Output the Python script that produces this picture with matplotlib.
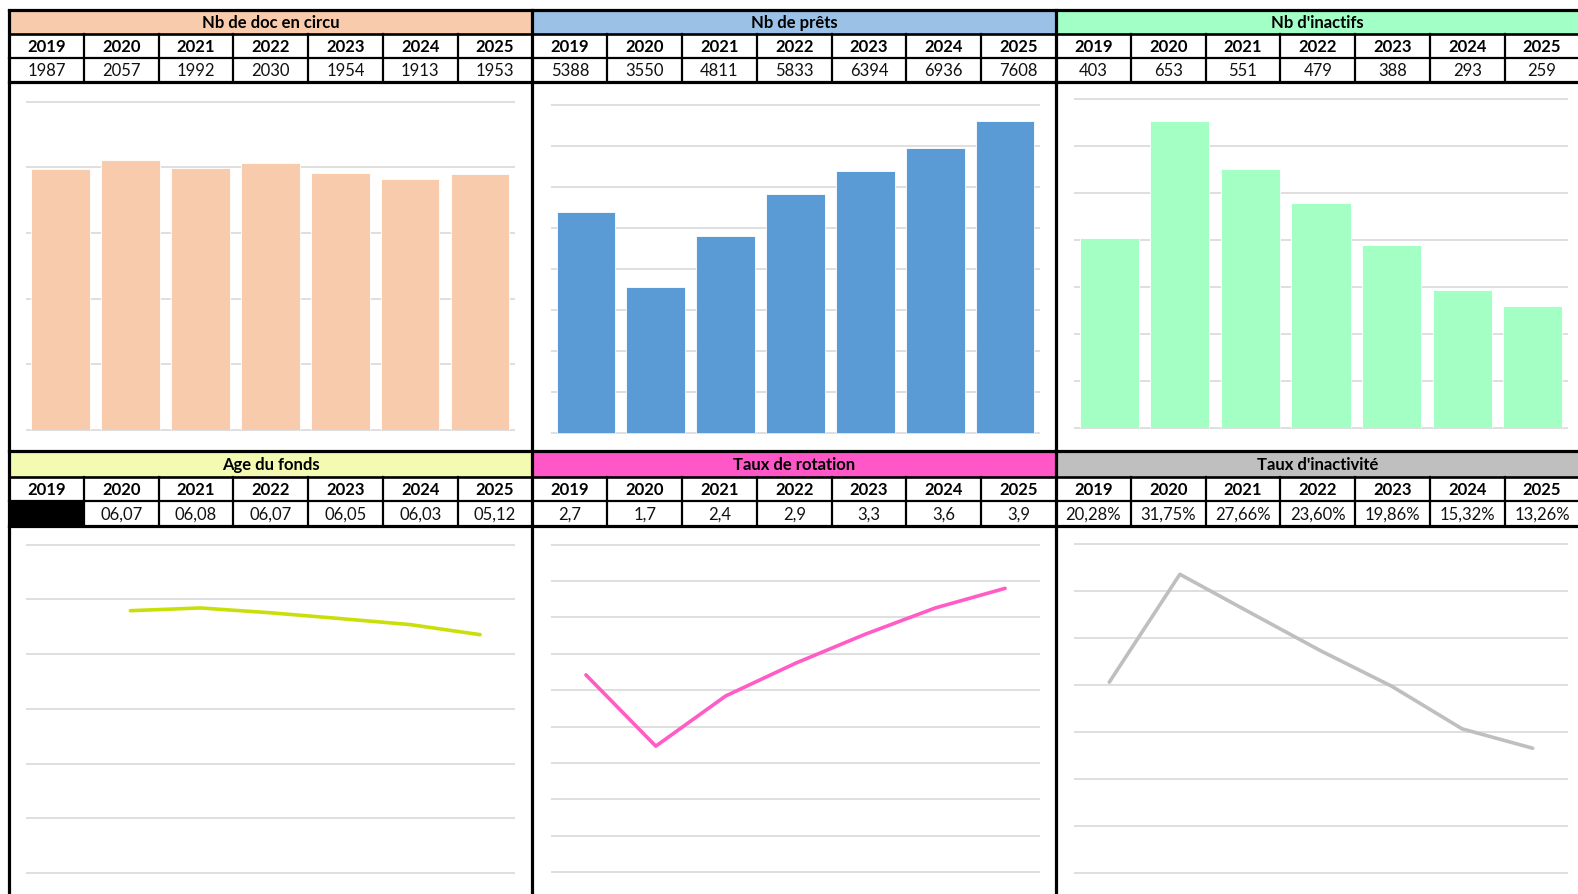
import matplotlib
matplotlib.use('Agg')
import matplotlib.pyplot as plt
import numpy as np
from matplotlib.patches import Rectangle

plt.rcParams['font.family'] = ['Lato', 'DejaVu Sans']

# ---------------- data ----------------
years = ['2019', '2020', '2021', '2022', '2023', '2024', '2025']

docs_circu = [1987, 2057, 1992, 2030, 1954, 1913, 1953]
prets = [5388, 3550, 4811, 5833, 6394, 6936, 7608]
inactifs = [403, 653, 551, 479, 388, 293, 259]

age_labels = ['', '06,07', '06,08', '06,07', '06,05', '06,03', '05,12']
age_days = [np.nan, 2397, 2422, 2378, 2325, 2270, 2178]

rotation_labels = ['2,7', '1,7', '2,4', '2,9', '3,3', '3,6', '3,9']
rotation = [2.71, 1.73, 2.42, 2.87, 3.27, 3.63, 3.90]

inact_labels = ['20,28%', '31,75%', '27,66%', '23,60%', '19,86%', '15,32%', '13,26%']
inact_rate = [20.28, 31.75, 27.66, 23.60, 19.86, 15.32, 13.26]

titles = ['Nb de doc en circu', 'Nb de prêts', "Nb d'inactifs",
          'Age du fonds', 'Taux de rotation', "Taux d'inactivité"]
header_colors = ['#F8CBAD', '#9BC2E6', '#A2FFC6', '#F3FBB3', '#FF57C8', '#BFBFBF']
mark_colors = ['#F8CBAD', '#5B9BD5', '#A3FFC3', '#CADF0A', '#FF5CC6', '#BFBFBF']

# ---------------- geometry (pixels) ----------------
W, H = 1578, 894
fig = plt.figure(figsize=(W / 100, H / 100), dpi=100)
fig.patch.set_facecolor('white')

col_x = [9.0, 532.5, 1056.0, 1579.5]
rows = [  # title top, title bottom, years bottom, values bottom, chart bottom
    dict(t0=9.5, t1=33.5, y1=57.7, v1=81.5, c1=451.0),
    dict(t0=451.0, t1=476.5, y1=501.0, v1=526.0, c1=894.0),
]
# plot-area boxes: x0, x1, ytop(gridline max), ybottom(baseline)
plot_boxes = [
    (25.5, 515.0, 101.7, 430.0),
    (551.0, 1040.0, 104.7, 433.0),
    (1074.0, 1568.0, 98.7, 428.0),
    (25.5, 515.0, 544.7, 873.0),
    (551.0, 1040.0, 544.7, 872.0),
    (1074.0, 1568.0, 543.7, 873.0),
]
ymaxs = [2500, 8000, 700, 3000, 4.5, 35]
steps = [500, 1000, 100, 500, 0.5, 5]

def fig_box(x0, x1, ytop, ybot):
    return [x0 / W, 1 - ybot / H, (x1 - x0) / W, (ybot - ytop) / H]

# ---------------- charts ----------------
series = [docs_circu, prets, inactifs, age_days, rotation, inact_rate]
for i in range(6):
    x0, x1, yt, yb = plot_boxes[i]
    ax = fig.add_axes(fig_box(x0, x1, yt, yb))
    ax.set_xlim(-0.5, 6.5)
    ax.set_ylim(0, ymaxs[i])
    ax.axis('off')
    ticks = np.arange(0, ymaxs[i] + steps[i] / 2, steps[i])
    ax.hlines(ticks, -0.5, 6.5, colors='#D9D9D9', linewidth=1.2, clip_on=False, zorder=1)
    xs = np.arange(len(years))
    if i < 3:
        ax.bar(xs, series[i], width=0.84, color=mark_colors[i],
               edgecolor='white', linewidth=0.6, zorder=2)
    else:
        ax.plot(xs, series[i], color=mark_colors[i], linewidth=2.6,
                solid_capstyle='round', solid_joinstyle='round', zorder=3)

# ---------------- table overlay ----------------
ov = fig.add_axes([0, 0, 1, 1])
ov.set_xlim(0, W)
ov.set_ylim(H, 0)
ov.axis('off')
ov.patch.set_alpha(0)
ov.set_zorder(10)

value_labels = [
    [str(v) for v in docs_circu],
    [str(v) for v in prets],
    [str(v) for v in inactifs],
    age_labels, rotation_labels, inact_labels,
]

THICK = 2.3
MED = 1.6
FS = 12

for i in range(6):
    r = rows[i // 3]
    c = i % 3
    xa, xb = col_x[c], col_x[c + 1]
    # title bar
    ov.add_patch(Rectangle((xa, r['t0']), xb - xa, r['t1'] - r['t0'],
                           facecolor=header_colors[i], edgecolor='none', zorder=1))
    ov.text((xa + xb) / 2, (r['t0'] + r['t1']) / 2 + 1.5, titles[i], ha='center',
            va='center', fontsize=FS, fontweight='bold', color='black', zorder=5)
    cw = (xb - xa) / 7
    for k in range(7):
        cx0 = xa + k * cw
        if i == 3 and k == 0:
            ov.add_patch(Rectangle((cx0, r['y1']), cw, r['v1'] - r['y1'],
                                   facecolor='black', edgecolor='none', zorder=1))
        ov.text(cx0 + cw / 2, (r['t1'] + r['y1']) / 2 + 1, years[k], ha='center',
                va='center', fontsize=FS, fontweight='bold', color='black', zorder=5)
        ov.text(cx0 + cw / 2, (r['y1'] + r['v1']) / 2 + 1, value_labels[i][k],
                ha='center', va='center', fontsize=FS, color='#111111', zorder=5)
        if k > 0:
            ov.plot([cx0, cx0], [r['t1'], r['v1']], color='black', lw=MED, zorder=6)
    # horizontal lines
    ov.plot([xa, xb], [r['t0'], r['t0']], color='black', lw=THICK, zorder=7)
    ov.plot([xa, xb], [r['t1'], r['t1']], color='black', lw=MED + 0.3, zorder=7)
    ov.plot([xa, xb], [r['y1'], r['y1']], color='black', lw=MED, zorder=7)
    ov.plot([xa, xb], [r['v1'], r['v1']], color='black', lw=THICK, zorder=7)

# vertical panel borders
for xv in col_x[:3]:
    ov.plot([xv, xv], [rows[0]['t0'] - 1, H + 2], color='black', lw=THICK,
            zorder=8, solid_capstyle='butt')

fig.savefig('out.png', dpi=100, facecolor='white')
